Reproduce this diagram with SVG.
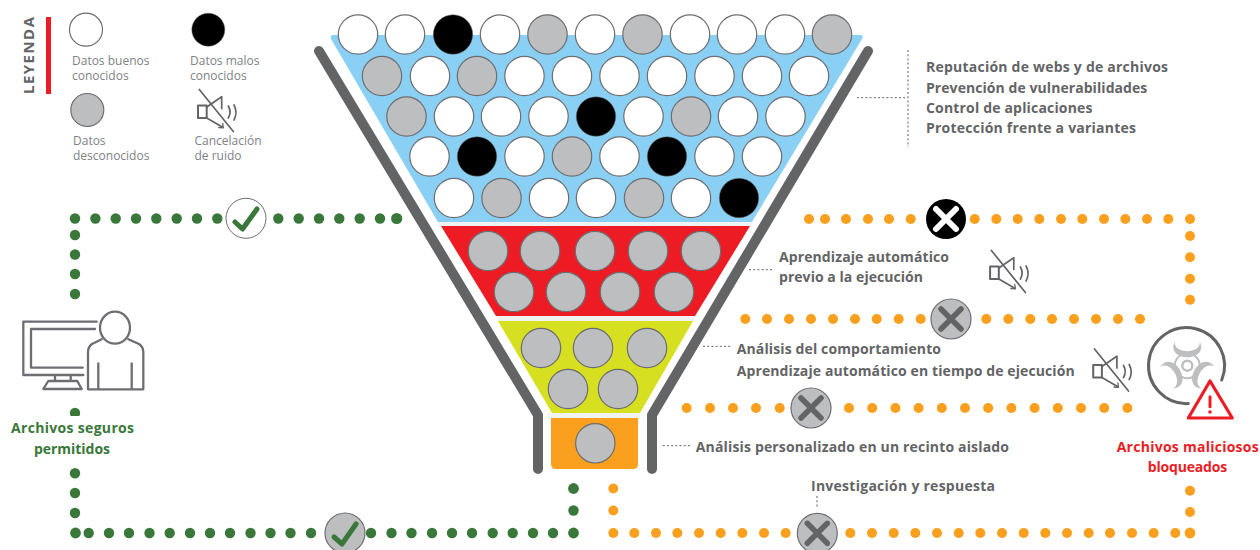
<svg xmlns="http://www.w3.org/2000/svg" width="1260" height="550" viewBox="0 0 1260 550">
<style>
text{font-family:"Open Sans","Liberation Sans",sans-serif}
.w{fill:#fff;stroke:#6d6e71;stroke-width:1.2}
.g{fill:#bcbec0;stroke:#6d6e71;stroke-width:1.2}
.b{fill:#000;stroke:#6d6e71;stroke-width:.5}
.gd{fill:#39773a}
.od{fill:#faa01e}
.lab{font-size:14px;font-weight:700;fill:#636466}
.leg{font-size:12px;fill:#808285}
.gt{font-size:14px;font-weight:700;fill:#39773a}
.rt{font-size:14px;font-weight:700;fill:#ed1c24}
.ln{fill:none;stroke:#636466;stroke-linecap:round;stroke-linejoin:round}
.ld{fill:none;stroke:#808285;stroke-width:1.3;stroke-dasharray:2 2.200}
</style>
<defs>
<g id="mute" class="ln" stroke-width="1.7"><path d="M-17,-21 L17,21"/><path d="M-18.300,-5 H-9.600 V7.500 H-18.300Z" stroke-width="2"/><path d="M-9.600,-3.500 L5.400,-13.800 V-2 M-9.600,7.500 L6.400,16.800"/><path d="M2.500,17 L7,17.300 L6.400,13" stroke-width="1.300"/><path d="M12,-4.500 q3.500,6 0,12 M17.700,-5.500 q4,7.500 0,15"/></g>
<g id="xg"><circle r="20" class="g"/><path d="M-10,-10 L10,10 M10,-10 L-10,10" fill="none" stroke="#636466" stroke-width="5.500" stroke-linecap="round"/></g>
<path id="blade" d="M-12.500,-24 C-17,-15 -10,-8.500 0,-8.500 C10,-8.500 17,-15 12.500,-24 C13,-18 7,-14.500 0,-14.500 C-7,-14.500 -13,-18 -12.500,-24Z" fill="#bcbec0"/>
</defs>
<g id="legend">
<rect x="46" y="17" width="5" height="77" fill="#ed1c24"/>
<text transform="translate(34,94) rotate(-90)" font-size="15" font-weight="700" fill="#636466" textLength="77" lengthAdjust="spacing">LEYENDA</text>
<circle cx="86" cy="29.700" r="16.500" class="w"/><circle cx="208.300" cy="29.700" r="16.500" class="b"/><circle cx="87.300" cy="110" r="16.500" class="g"/>
<text class="leg" x="72" y="65">Datos buenos</text><text class="leg" x="72" y="80">conocidos</text>
<text class="leg" x="190" y="65">Datos malos</text><text class="leg" x="190" y="80">conocidos</text>
<text class="leg" x="73" y="145">Datos</text><text class="leg" x="73" y="160">desconocidos</text>
<text class="leg" x="194.500" y="145">Cancelación</text><text class="leg" x="194.500" y="160">de ruido</text>
<use href="#mute" x="216.300" y="110.500"/>
</g>
<g id="connectors">
<g class="gd">
<circle cx="75" cy="218.500" r="5.200"/><circle cx="75" cy="235" r="5.200"/><circle cx="75" cy="254.500" r="5.200"/><circle cx="75" cy="274" r="5.200"/><circle cx="75" cy="294" r="5.200"/>
<circle cx="95.400" cy="218.500" r="5.200"/><circle cx="115.700" cy="218.500" r="5.200"/><circle cx="136" cy="218.500" r="5.200"/><circle cx="156.300" cy="218.500" r="5.200"/><circle cx="176.700" cy="218.500" r="5.200"/><circle cx="197" cy="218.500" r="5.200"/><circle cx="217.300" cy="218.500" r="5.200"/>
<circle cx="278.300" cy="218.500" r="5.200"/><circle cx="298.700" cy="218.500" r="5.200"/><circle cx="319" cy="218.500" r="5.200"/><circle cx="339.300" cy="218.500" r="5.200"/><circle cx="359.700" cy="218.500" r="5.200"/><circle cx="380" cy="218.500" r="5.200"/><circle cx="396.700" cy="218.500" r="5.600"/>
<circle cx="75" cy="413" r="5.200"/>
<circle cx="75" cy="473.300" r="5.200"/><circle cx="75" cy="493" r="5.200"/><circle cx="75" cy="513" r="5.200"/><circle cx="75.500" cy="533" r="5.400"/>
<circle cx="88.700" cy="533" r="5.200"/><circle cx="109" cy="533" r="5.200"/><circle cx="129" cy="533" r="5.200"/><circle cx="149.500" cy="533" r="5.200"/><circle cx="169.700" cy="533" r="5.200"/><circle cx="190" cy="533" r="5.200"/><circle cx="210" cy="533" r="5.200"/><circle cx="230" cy="533" r="5.200"/><circle cx="250.500" cy="533" r="5.200"/><circle cx="270.500" cy="533" r="5.200"/><circle cx="290.500" cy="533" r="5.200"/><circle cx="311" cy="533" r="5.200"/>
<circle cx="371" cy="533" r="5.200"/><circle cx="391.500" cy="533" r="5.200"/><circle cx="411.500" cy="533" r="5.200"/><circle cx="432" cy="533" r="5.200"/><circle cx="452" cy="533" r="5.200"/><circle cx="472" cy="533" r="5.200"/><circle cx="492.700" cy="533" r="5.200"/><circle cx="512.700" cy="533" r="5.200"/><circle cx="533" cy="533" r="5.200"/><circle cx="553" cy="533" r="5.200"/><circle cx="573.500" cy="533" r="5.400"/><circle cx="573.500" cy="510.500" r="5.200"/><circle cx="573.500" cy="488.500" r="5.400"/>
</g>
<g class="od">
<circle cx="809" cy="219" r="5"/><circle cx="825" cy="219" r="5"/><circle cx="846" cy="219" r="5"/><circle cx="868" cy="219" r="5"/><circle cx="889" cy="219" r="5"/><circle cx="910.700" cy="219" r="5"/>
<circle cx="974.700" cy="219" r="5"/><circle cx="996.300" cy="219" r="5"/><circle cx="1017.700" cy="219" r="5"/><circle cx="1039.300" cy="219" r="5"/><circle cx="1061" cy="219" r="5"/><circle cx="1082.300" cy="219" r="5"/><circle cx="1104" cy="219" r="5"/><circle cx="1125.300" cy="219" r="5"/><circle cx="1147" cy="219" r="5"/><circle cx="1168.300" cy="219" r="5"/><circle cx="1190" cy="219" r="5"/>
<circle cx="1190" cy="236" r="5"/><circle cx="1190" cy="257.300" r="5"/><circle cx="1190" cy="278.700" r="5"/><circle cx="1190" cy="299.700" r="5"/>
<circle cx="745.300" cy="319" r="5"/><circle cx="767" cy="319" r="5"/><circle cx="789" cy="319" r="5"/><circle cx="811" cy="319" r="5"/><circle cx="833" cy="319" r="5"/><circle cx="855" cy="319" r="5"/><circle cx="876.700" cy="319" r="5"/><circle cx="898.700" cy="319" r="5"/><circle cx="920.700" cy="319" r="5"/>
<circle cx="986.300" cy="319" r="5"/><circle cx="1008.300" cy="319" r="5"/><circle cx="1030.300" cy="319" r="5"/><circle cx="1052" cy="319" r="5"/><circle cx="1074" cy="319" r="5"/><circle cx="1096" cy="319" r="5"/><circle cx="1118" cy="319" r="5"/><circle cx="1140" cy="319" r="5"/>
<circle cx="686.700" cy="408" r="5"/><circle cx="710" cy="408" r="5"/><circle cx="733" cy="408" r="5"/><circle cx="756" cy="408" r="5"/><circle cx="779.700" cy="408" r="5"/>
<circle cx="849" cy="408" r="5"/><circle cx="872.200" cy="408" r="5"/><circle cx="895.400" cy="408" r="5"/><circle cx="918.600" cy="408" r="5"/><circle cx="941.800" cy="408" r="5"/><circle cx="965" cy="408" r="5"/><circle cx="988.200" cy="408" r="5"/><circle cx="1011.400" cy="408" r="5"/><circle cx="1034.600" cy="408" r="5"/><circle cx="1057.800" cy="408" r="5"/><circle cx="1081" cy="408" r="5"/><circle cx="1104.200" cy="408" r="5"/><circle cx="1127.400" cy="408" r="5"/>
<circle cx="613.300" cy="488.500" r="5"/><circle cx="613.300" cy="510.500" r="5"/><circle cx="613.300" cy="533" r="5"/><circle cx="634.300" cy="533" r="5"/><circle cx="656" cy="533" r="5"/><circle cx="677.300" cy="533" r="5"/><circle cx="699" cy="533" r="5"/><circle cx="720.700" cy="533" r="5"/><circle cx="742.300" cy="533" r="5"/><circle cx="764" cy="533" r="5"/><circle cx="785.700" cy="533" r="5"/>
<circle cx="850.300" cy="533" r="5"/><circle cx="872" cy="533" r="5"/><circle cx="893.700" cy="533" r="5"/><circle cx="915.300" cy="533" r="5"/><circle cx="937" cy="533" r="5"/><circle cx="958.700" cy="533" r="5"/><circle cx="980.300" cy="533" r="5"/><circle cx="1002" cy="533" r="5"/><circle cx="1023.700" cy="533" r="5"/><circle cx="1045.300" cy="533" r="5"/><circle cx="1067" cy="533" r="5"/><circle cx="1088.700" cy="533" r="5"/><circle cx="1110" cy="533" r="5"/><circle cx="1132" cy="533" r="5"/><circle cx="1153.700" cy="533" r="5"/><circle cx="1175.300" cy="533" r="5"/><circle cx="1190" cy="533" r="5.400"/>
<circle cx="1190" cy="512" r="5"/><circle cx="1190" cy="490.700" r="5"/>
</g>
<path class="ld" d="M857,97.700 H905 M908,50 V147 M749,269.700 H772 M703,346.300 H732 M662.700,445.700 H690 M817,496 V508"/>
</g>
<g id="funnel">
<path d="M333,35 H860 Q864,35 862,39 L752,222 H438 L331,39 Q330,35 333,35Z" fill="#8ad0f4"/>
<path d="M437,222 H753 L751,226 H439Z" fill="#f1f2f2"/>
<path d="M441,226 H750 L695,316 H496Z" fill="#ed1c24"/>
<path d="M495,316 H696 L693,321 H498Z" fill="#f1f2f2"/>
<path d="M498,321 H693 L640,413 H552Z" fill="#d7df21"/>
<path d="M548,413 H640 V418 H548Z" fill="#f1f2f2"/>
<path d="M551,418 H638 V464 Q638,469 633,469 H556 Q551,469 551,464Z" fill="#faa01e"/>
<path class="ln" stroke-width="10" d="M319,51 L538,415 V469 M868,51 L652,415 V469"/>
</g>
<g id="balls">
<g class="w"><circle cx="358" cy="34.500" r="19.700"/><circle cx="405" cy="34.500" r="19.700"/><circle cx="500" cy="34.500" r="19.700"/><circle cx="595" cy="34.500" r="19.700"/><circle cx="690" cy="34.500" r="19.700"/><circle cx="737" cy="34.500" r="19.700"/><circle cx="785" cy="34.500" r="19.700"/>
<circle cx="430" cy="76" r="19.700"/><circle cx="524.500" cy="76" r="19.700"/><circle cx="572" cy="76" r="19.700"/><circle cx="619.500" cy="76" r="19.700"/><circle cx="667" cy="76" r="19.700"/><circle cx="714.500" cy="76" r="19.700"/><circle cx="762" cy="76" r="19.700"/><circle cx="809" cy="76" r="19.700"/>
<circle cx="454" cy="116.500" r="19.700"/><circle cx="501" cy="116.500" r="19.700"/><circle cx="548.500" cy="116.500" r="19.700"/><circle cx="643.500" cy="116.500" r="19.700"/><circle cx="738" cy="116.500" r="19.700"/><circle cx="785.500" cy="116.500" r="19.700"/>
<circle cx="429.500" cy="156.500" r="19.700"/><circle cx="524.500" cy="156.500" r="19.700"/><circle cx="619.500" cy="156.500" r="19.700"/><circle cx="714.500" cy="156.500" r="19.700"/><circle cx="762" cy="156.500" r="19.700"/>
<circle cx="454" cy="198" r="19.700"/><circle cx="549" cy="198" r="19.700"/><circle cx="596" cy="198" r="19.700"/><circle cx="691" cy="198" r="19.700"/></g>
<g class="g"><circle cx="547.500" cy="34.500" r="19.700"/><circle cx="642.500" cy="34.500" r="19.700"/><circle cx="832" cy="34.500" r="19.700"/>
<circle cx="382" cy="76" r="19.700"/><circle cx="477" cy="76" r="19.700"/>
<circle cx="406.500" cy="116.500" r="19.700"/><circle cx="691" cy="116.500" r="19.700"/>
<circle cx="572" cy="156.500" r="19.700"/>
<circle cx="501.500" cy="198" r="19.700"/><circle cx="644" cy="198" r="19.700"/>
<circle cx="488" cy="251" r="19.700"/><circle cx="540" cy="251" r="19.700"/><circle cx="595" cy="251" r="19.700"/><circle cx="648" cy="251" r="19.700"/><circle cx="701" cy="251" r="19.700"/>
<circle cx="514" cy="292" r="19.700"/><circle cx="566" cy="292" r="19.700"/><circle cx="620" cy="292" r="19.700"/><circle cx="674" cy="292" r="19.700"/>
<circle cx="541" cy="348" r="19.700"/><circle cx="593" cy="348" r="19.700"/><circle cx="647" cy="348" r="19.700"/>
<circle cx="568" cy="389" r="19.700"/><circle cx="618" cy="389" r="19.700"/>
<circle cx="595.300" cy="443.300" r="19.700"/></g>
<g class="b"><circle cx="453" cy="34.500" r="19.700"/><circle cx="596" cy="116.500" r="19.700"/><circle cx="477" cy="156.500" r="19.700"/><circle cx="667" cy="156.500" r="19.700"/><circle cx="739" cy="198" r="19.700"/></g>
</g>
<g id="check-top"><circle cx="246" cy="218.300" r="20" fill="#fff" stroke="#6d6e71" stroke-width="1"/><path d="M235,222 L242.500,229 L257,209" fill="none" stroke="#39773a" stroke-width="5" stroke-linecap="round" stroke-linejoin="round"/></g>
<g id="check-bottom"><circle cx="345" cy="533" r="20" class="g"/><path d="M334,537 L342,544 L356,524" fill="none" stroke="#39773a" stroke-width="5" stroke-linecap="round" stroke-linejoin="round"/></g>
<g id="x-black"><circle cx="946" cy="219" r="20" fill="#000"/><path d="M936,209 L956,229 M956,209 L936,229" fill="none" stroke="#fff" stroke-width="6" stroke-linecap="round"/></g>
<use id="x-red" href="#xg" x="951" y="319"/>
<use id="x-yellow" href="#xg" x="811" y="408"/>
<use id="x-investigation" href="#xg" x="817.300" y="533.300"/>
<use id="mute-1" href="#mute" x="1008.400" y="271.500"/>
<use id="mute-2" href="#mute" x="1111.500" y="370"/>
<g id="user">
<path d="M96.700,321.700 H23.300 V375 H83.300 M95,329 H31 V367.700 H82.700 M55,375 V381 M70.700,375 V381 M48.300,381 H77.300 L81.700,389 H43.300Z" fill="none" stroke="#6d6e71" stroke-width="2.300" stroke-linejoin="round" stroke-linecap="round"/>
<ellipse cx="115" cy="327.700" rx="15" ry="16" fill="none" stroke="#6d6e71" stroke-width="2.300"/>
<path d="M101.700,339.300 L92,344 Q88,347 88,352 V389.300 H143.300 V352 Q143.300,347 139,344 L128.300,339.300 M98.300,363.500 V389 M131.700,363.500 V389" fill="none" stroke="#6d6e71" stroke-width="2.300" stroke-linejoin="round" stroke-linecap="round"/>
</g>
<g id="safe-label">
<rect x="8" y="416" width="130" height="45" fill="#fff"/>
<text class="gt" x="11" y="433" textLength="123" lengthAdjust="spacing">Archivos seguros</text>
<text class="gt" x="34" y="454" textLength="76" lengthAdjust="spacing">permitidos</text>
</g>
<g id="malware">
<path d="M1221.700,380 A38,38 0 1 0 1188.300,403.600" fill="none" stroke="#636466" stroke-width="3" stroke-linecap="round"/>
<g transform="translate(1187.300,365.700)"><circle r="12.500" fill="none" stroke="#bcbec0" stroke-width="2"/><use href="#blade"/><use href="#blade" transform="rotate(120)"/><use href="#blade" transform="rotate(240)"/><circle r="5" fill="#fff" stroke="#bcbec0" stroke-width="2.500"/></g>
<path d="M1210,381 L1232.300,418 H1188.300Z" fill="#fff" stroke="#ed1c24" stroke-width="3.200" stroke-linejoin="round"/>
<path d="M1210,396.700 V406.700" stroke="#ed1c24" stroke-width="3" stroke-linecap="round"/><circle cx="1210" cy="412" r="1.800" fill="#ed1c24"/>
<text class="rt" x="1116.700" y="451.700" textLength="142" lengthAdjust="spacing">Archivos maliciosos</text>
<text class="rt" x="1147.700" y="471.700" textLength="79.500" lengthAdjust="spacing">bloqueados</text>
</g>
<g id="labels">
<text class="lab" x="926" y="72" textLength="242" lengthAdjust="spacing">Reputación de webs y de archivos</text>
<text class="lab" x="926" y="92.500" textLength="221.300" lengthAdjust="spacing">Prevención de vulnerabilidades</text>
<text class="lab" x="926" y="112.500" textLength="166.500" lengthAdjust="spacing">Control de aplicaciones</text>
<text class="lab" x="926" y="133" textLength="210" lengthAdjust="spacing">Protección frente a variantes</text>
<text class="lab" x="779" y="262" textLength="170" lengthAdjust="spacing">Aprendizaje automático</text>
<text class="lab" x="779" y="282" textLength="144" lengthAdjust="spacing">previo a la ejecución</text>
<text class="lab" x="736.700" y="354" textLength="204.300" lengthAdjust="spacing">Análisis del comportamiento</text>
<text class="lab" x="736.700" y="375.700" textLength="338" lengthAdjust="spacing">Aprendizaje automático en tiempo de ejecución</text>
<text class="lab" x="695.700" y="451.700" textLength="313.300" lengthAdjust="spacing">Análisis personalizado en un recinto aislado</text>
<text class="lab" x="811" y="491" textLength="184" lengthAdjust="spacing">Investigación y respuesta</text>
</g>
</svg>
